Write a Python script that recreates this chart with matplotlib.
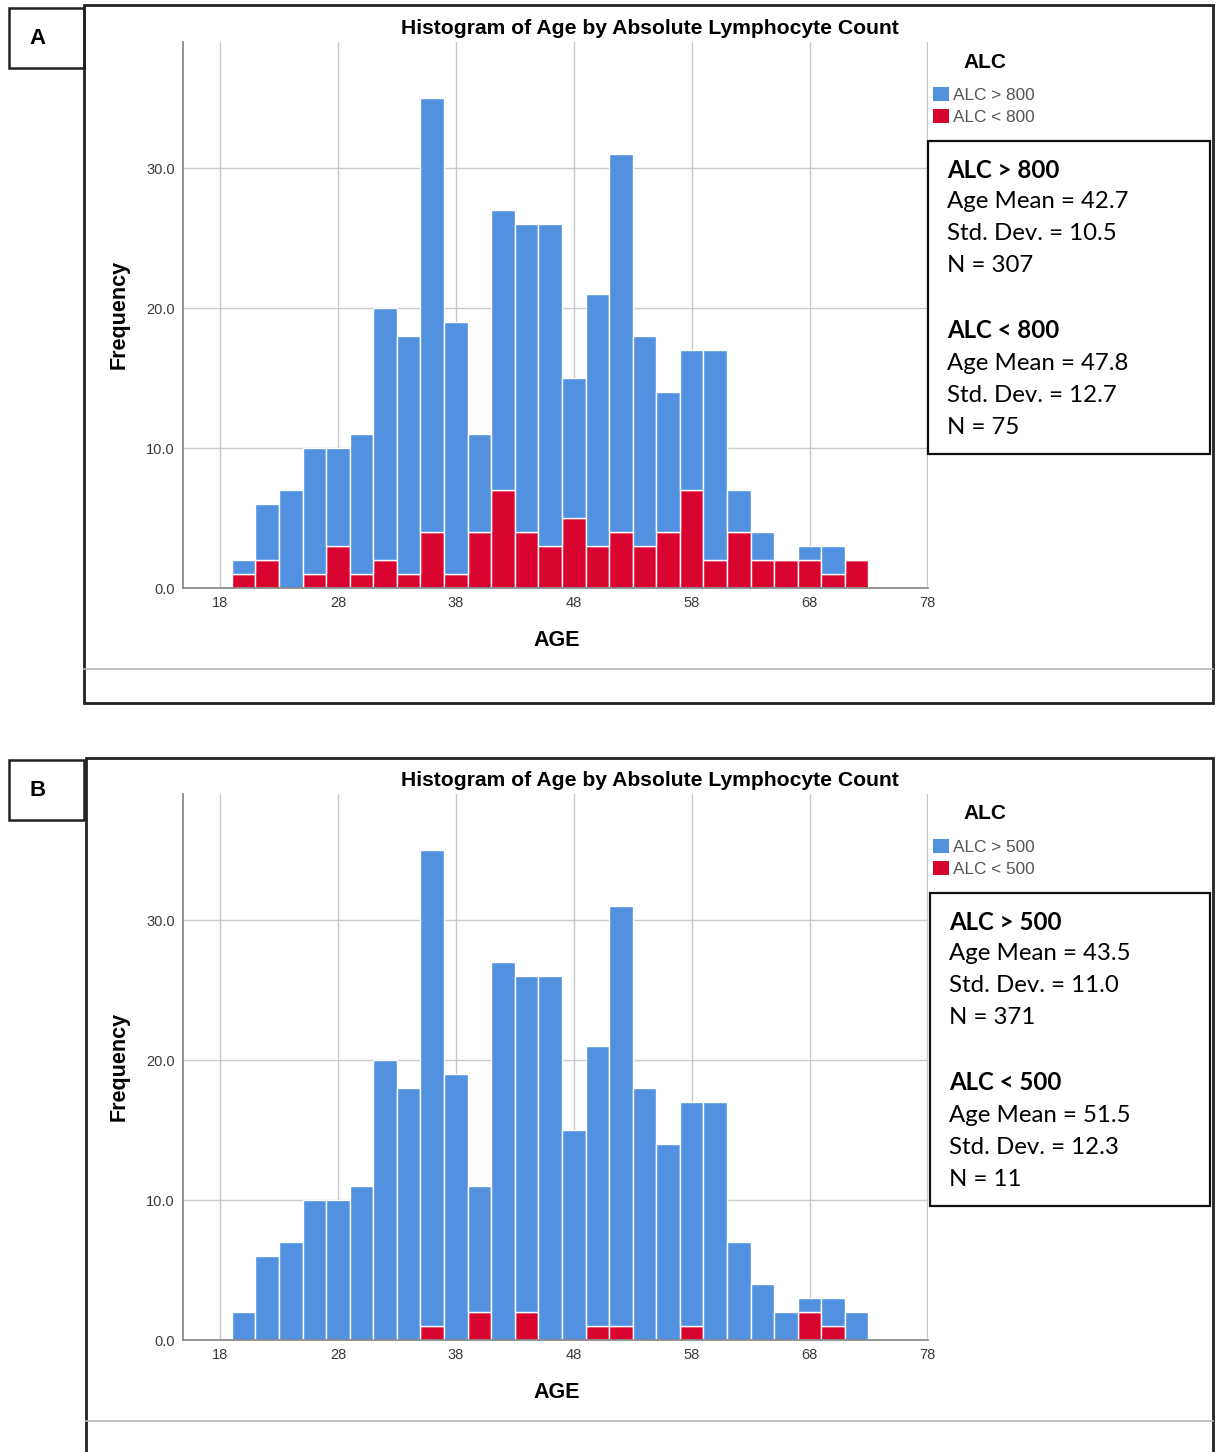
import matplotlib
matplotlib.use("Agg")
import matplotlib.pyplot as plt
from matplotlib.patches import Rectangle, Patch
from matplotlib.lines import Line2D

# ---------------- data ----------------
bin_centers = [20, 22, 24, 26, 28, 30, 32, 34, 36, 38, 40, 42, 44, 46, 48,
               50, 52, 54, 56, 58, 60, 62, 64, 66, 68, 70, 72]
total_counts = [2, 6, 7, 10, 10, 11, 20, 18, 35, 19, 11, 27, 26, 26, 15,
                21, 31, 18, 14, 17, 17, 7, 4, 2, 3, 3, 2]
low_A = [1, 2, 0, 1, 3, 1, 2, 1, 4, 1, 4, 7, 4, 3, 5,
         3, 4, 3, 4, 7, 2, 4, 2, 2, 2, 1, 2]
low_B = [0, 0, 0, 0, 0, 0, 0, 0, 1, 0, 2, 0, 2, 0, 0,
         1, 1, 0, 0, 1, 0, 0, 0, 0, 2, 1, 0]
x_ticks = [18, 28, 38, 48, 58, 68, 78]
y_ticks = [0, 10, 20, 30]
y_tick_labels = ["0.0", "10.0", "20.0", "30.0"]

panels = [
    {"label": "A", "thr": "800",
     "hi_stats": ["Age Mean = 42.7", "Std. Dev. = 10.5", "N = 307"],
     "lo_stats": ["Age Mean = 47.8", "Std. Dev. = 12.7", "N = 75"],
     "low": low_A},
    {"label": "B", "thr": "500",
     "hi_stats": ["Age Mean = 43.5", "Std. Dev. = 11.0", "N = 371"],
     "lo_stats": ["Age Mean = 51.5", "Std. Dev. = 12.3", "N = 11"],
     "low": low_B},
]

BLUE = "#5191e0"
RED = "#d8032e"

W, H = 1217, 1452
fig = plt.figure(figsize=(W / 100, H / 100), dpi=100)
plt.rcParams["font.family"] = ["Liberation Sans", "DejaVu Sans"]


def fx(x):
    return x / W


def fy(y):
    return 1 - y / H


def rect(x0, y0, x1, y1, lw=2.0, ec="#222222"):
    fig.add_artist(Rectangle((fx(x0), fy(y1)), fx(x1) - fx(x0), fy(y0) - fy(y1),
                             transform=fig.transFigure, fill=False, lw=lw,
                             edgecolor=ec, clip_on=False))


def hline(x0, x1, y, color="#b5b5b5", lw=1.2):
    fig.add_artist(Line2D([fx(x0), fx(x1)], [fy(y), fy(y)],
                          transform=fig.transFigure, color=color, lw=lw))


offsets = [0, 752]
for p, off in zip(panels, offsets):
    # outer frame and panel label
    frame_left = 84 if off == 0 else 86
    frame_top = 5 + off if off == 0 else 758
    rect(frame_left, frame_top, 1213, 703 + off, lw=2.0)
    hline(frame_left, 1213, 669 + off)
    rect(9, 8 + off, 84, 68 + off, lw=1.8)
    fig.text(fx(38), fy(38 + off), p["label"], ha="center", va="center",
             fontsize=16, fontweight="bold")

    # axes
    ax = fig.add_axes([fx(183), fy(588 + off), (928 - 183) / W, (588 - 42) / H])
    ax.set_axisbelow(True)
    blue_vals = [t - l for t, l in zip(total_counts, p["low"])]
    ax.bar(bin_centers, p["low"], width=2, color=RED, edgecolor="white", lw=1.0)
    ax.bar(bin_centers, blue_vals, bottom=p["low"], width=2, color=BLUE,
           edgecolor="white", lw=1.0)
    ax.set_xlim(14.86, 78.05)
    ax.set_ylim(0, 39)
    ax.set_xticks(x_ticks)
    ax.set_xticklabels([str(v) for v in x_ticks])
    ax.set_yticks(y_ticks)
    ax.set_yticklabels(y_tick_labels)
    ax.tick_params(length=0, labelsize=10.5, labelcolor="#3a3a3a")
    ax.tick_params(axis="x", pad=6)
    ax.tick_params(axis="y", pad=6)
    ax.grid(True, color="#c9c9c9", lw=1.0)
    for s in ("top", "right"):
        ax.spines[s].set_visible(False)
    for s in ("left", "bottom"):
        ax.spines[s].set_color("#8a8a8a")
        ax.spines[s].set_linewidth(1.3)

    # titles and axis labels
    fig.text(fx(650), fy(28 + off), "Histogram of Age by Absolute Lymphocyte Count",
             ha="center", va="center", fontsize=15.2, fontweight="bold")
    fig.text(fx(557), fy(640 + off), "AGE", ha="center", va="center",
             fontsize=15.5, fontweight="bold")
    fig.text(fx(119), fy(314 + off), "Frequency", ha="center", va="center",
             rotation=90, fontsize=15.5, fontweight="bold")

    # legend
    fig.text(fx(985), fy(62 + off), "ALC", ha="center", va="center",
             fontsize=15, fontweight="bold")
    handles = [Patch(facecolor=BLUE, edgecolor="none"),
               Patch(facecolor=RED, edgecolor="none")]
    labels = ["ALC > " + p["thr"], "ALC < " + p["thr"]]
    fig.legend(handles, labels, loc="upper left",
               bbox_to_anchor=(fx(933), fy(87 + off)),
               bbox_transform=fig.transFigure, frameon=False,
               fontsize=12.4, labelcolor="#555555", handlelength=0.95,
               handleheight=0.85, handletextpad=0.2, labelspacing=0.35,
               borderpad=0, borderaxespad=0)

    # stats box
    bx = 928 if off == 0 else 930
    rect(bx, 141 + off, 1210, 454 + off, lw=1.6, ec="#111111")
    tx = bx + 19
    sfont = ["Lato", "DejaVu Sans"]
    ys_hi = [170, 202, 234, 266]
    ys_lo = [331, 363, 395, 428]
    lines_hi = ["ALC > " + p["thr"]] + p["hi_stats"]
    lines_lo = ["ALC < " + p["thr"]] + p["lo_stats"]
    for i, (yy, txt) in enumerate(zip(ys_hi, lines_hi)):
        fig.text(fx(tx), fy(yy + off), txt, ha="left", va="center",
                 fontsize=17.3, family=sfont,
                 fontweight="bold" if i == 0 else "normal")
    for i, (yy, txt) in enumerate(zip(ys_lo, lines_lo)):
        fig.text(fx(tx), fy(yy + off), txt, ha="left", va="center",
                 fontsize=17.3, family=sfont,
                 fontweight="bold" if i == 0 else "normal")

fig.savefig("out.png", dpi=100, facecolor="white")
